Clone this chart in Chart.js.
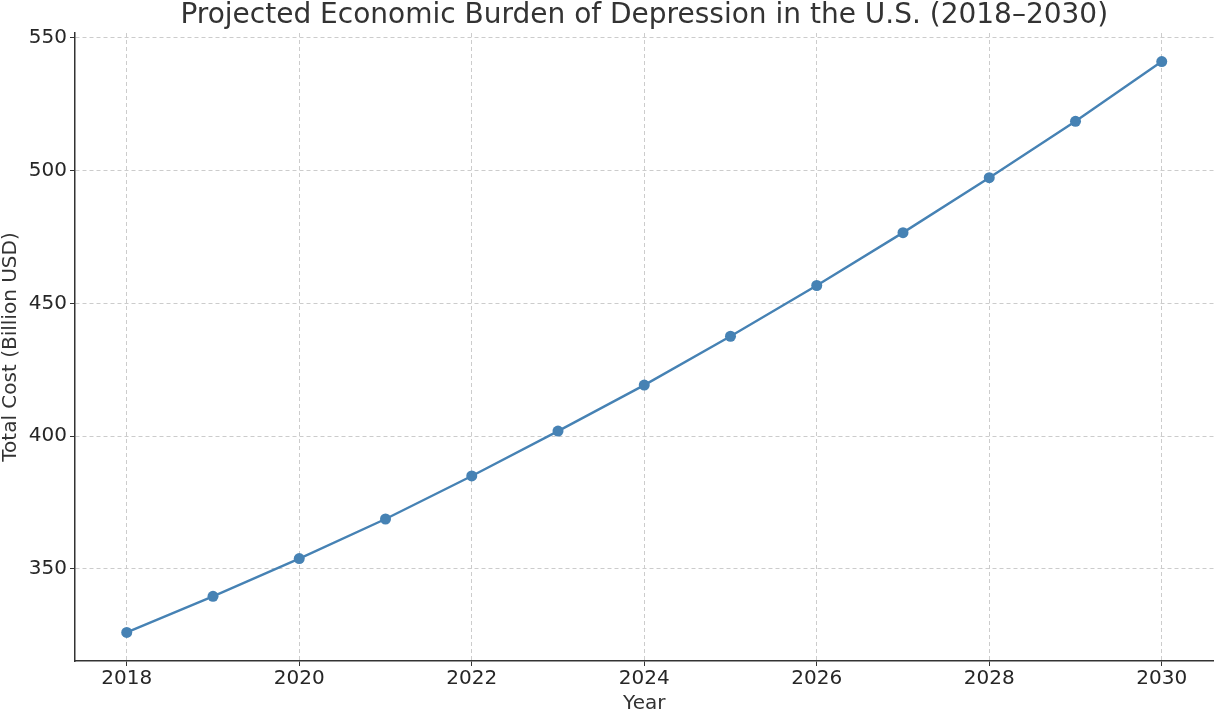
<!DOCTYPE html>
<html>
<head>
<meta charset="utf-8">
<script src="https://cdn.jsdelivr.net/npm/chart.js@4"></script>
<style>
    html, body { margin: 0; padding: 0; background: #fff; overflow: hidden; }
    canvas { display: block; }
</style>
</head>
<body>
<canvas id="costChart" width="1219" height="711"></canvas>
<script>
// Data
const years = [2018, 2019, 2020, 2021, 2022, 2023, 2024, 2025, 2026, 2027, 2028, 2029, 2030];
const totalCost = [326.1, 339.7, 353.9, 368.8, 385.0, 401.9, 419.2, 437.6, 456.7, 476.6, 497.3, 518.5, 541.0];
const xTicks = [2018, 2020, 2022, 2024, 2026, 2028, 2030];
const yTicks = [350, 400, 450, 500, 550];
const chartTitle = 'Projected Economic Burden of Depression in the U.S. (2018–2030)';

const FONT = "'DejaVu Sans', sans-serif";
const LINE_COLOR = '#4682B4';

// title centred over the plot area, like matplotlib does
const plotTitle = {
    id: 'plotTitle',
    afterDraw(chart) {
        const c = chart.ctx;
        const area = chart.chartArea;
        c.save();
        c.font = '28px ' + FONT;
        c.fillStyle = '#333333';
        c.textAlign = 'center';
        c.textBaseline = 'alphabetic';
        c.fillText(chartTitle, (area.left + area.right) / 2, 23);
        c.restore();
    }
};

function initializeCostChart() {
    const ctx = document.getElementById('costChart');
    if (!ctx) return;

    new Chart(ctx, {
        type: 'line',
        data: {
            datasets: [{
                label: 'Total Cost',
                data: years.map((y, i) => ({ x: y, y: totalCost[i] })),
                borderColor: LINE_COLOR,
                backgroundColor: LINE_COLOR,
                borderWidth: 2.4,
                pointRadius: 5.5,
                pointHoverRadius: 5.5,
                pointBorderWidth: 0,
                tension: 0
            }]
        },
        plugins: [plotTitle],
        options: {
            responsive: false,
            animation: false,
            devicePixelRatio: 1,
            layout: { padding: { left: 0, right: 2, top: 33, bottom: 0 } },
            plugins: {
                legend: { display: false },
                tooltip: { enabled: false },
                title: { display: false }
            },
            scales: {
                x: {
                    type: 'linear',
                    min: 2017.4,
                    max: 2030.6,
                    afterBuildTicks: axis => { axis.ticks = xTicks.map(v => ({ value: v })); },
                    afterFit: axis => {
                        axis.height = 50;
                        axis.paddingLeft = 0;
                        axis.paddingRight = 0;
                    },
                    grid: {
                        color: '#cccccc',
                        lineWidth: 1,
                        tickColor: '#333333',
                        tickLength: 5,
                        tickWidth: 1
                    },
                    border: { display: true, color: '#333333', width: 1.5, dash: [4, 3] },
                    ticks: {
                        color: '#262626',
                        font: { family: FONT, size: 20, lineHeight: 1.1 },
                        padding: 2,
                        callback: v => String(v)
                    },
                    title: {
                        display: true,
                        text: 'Year',
                        color: '#333333',
                        font: { family: FONT, size: 20, lineHeight: 1 },
                        padding: { top: 0, bottom: -3 }
                    }
                },
                y: {
                    min: 315.35,
                    max: 551.75,
                    afterBuildTicks: axis => { axis.ticks = yTicks.map(v => ({ value: v })); },
                    afterFit: axis => { axis.width = 75; },
                    grid: {
                        color: '#cccccc',
                        lineWidth: 1,
                        tickColor: '#333333',
                        tickLength: 5,
                        tickWidth: 1
                    },
                    border: { display: true, color: '#333333', width: 1.5, dash: [4, 3] },
                    ticks: {
                        color: '#262626',
                        font: { family: FONT, size: 20 },
                        padding: 3
                    },
                    title: {
                        display: true,
                        text: 'Total Cost (Billion USD)',
                        color: '#333333',
                        font: { family: FONT, size: 20, lineHeight: 1.1 },
                        padding: { top: 0, bottom: 0 }
                    }
                }
            }
        }
    });
}

document.addEventListener('DOMContentLoaded', function() {
    initializeCostChart();
});
</script>
</body>
</html>
